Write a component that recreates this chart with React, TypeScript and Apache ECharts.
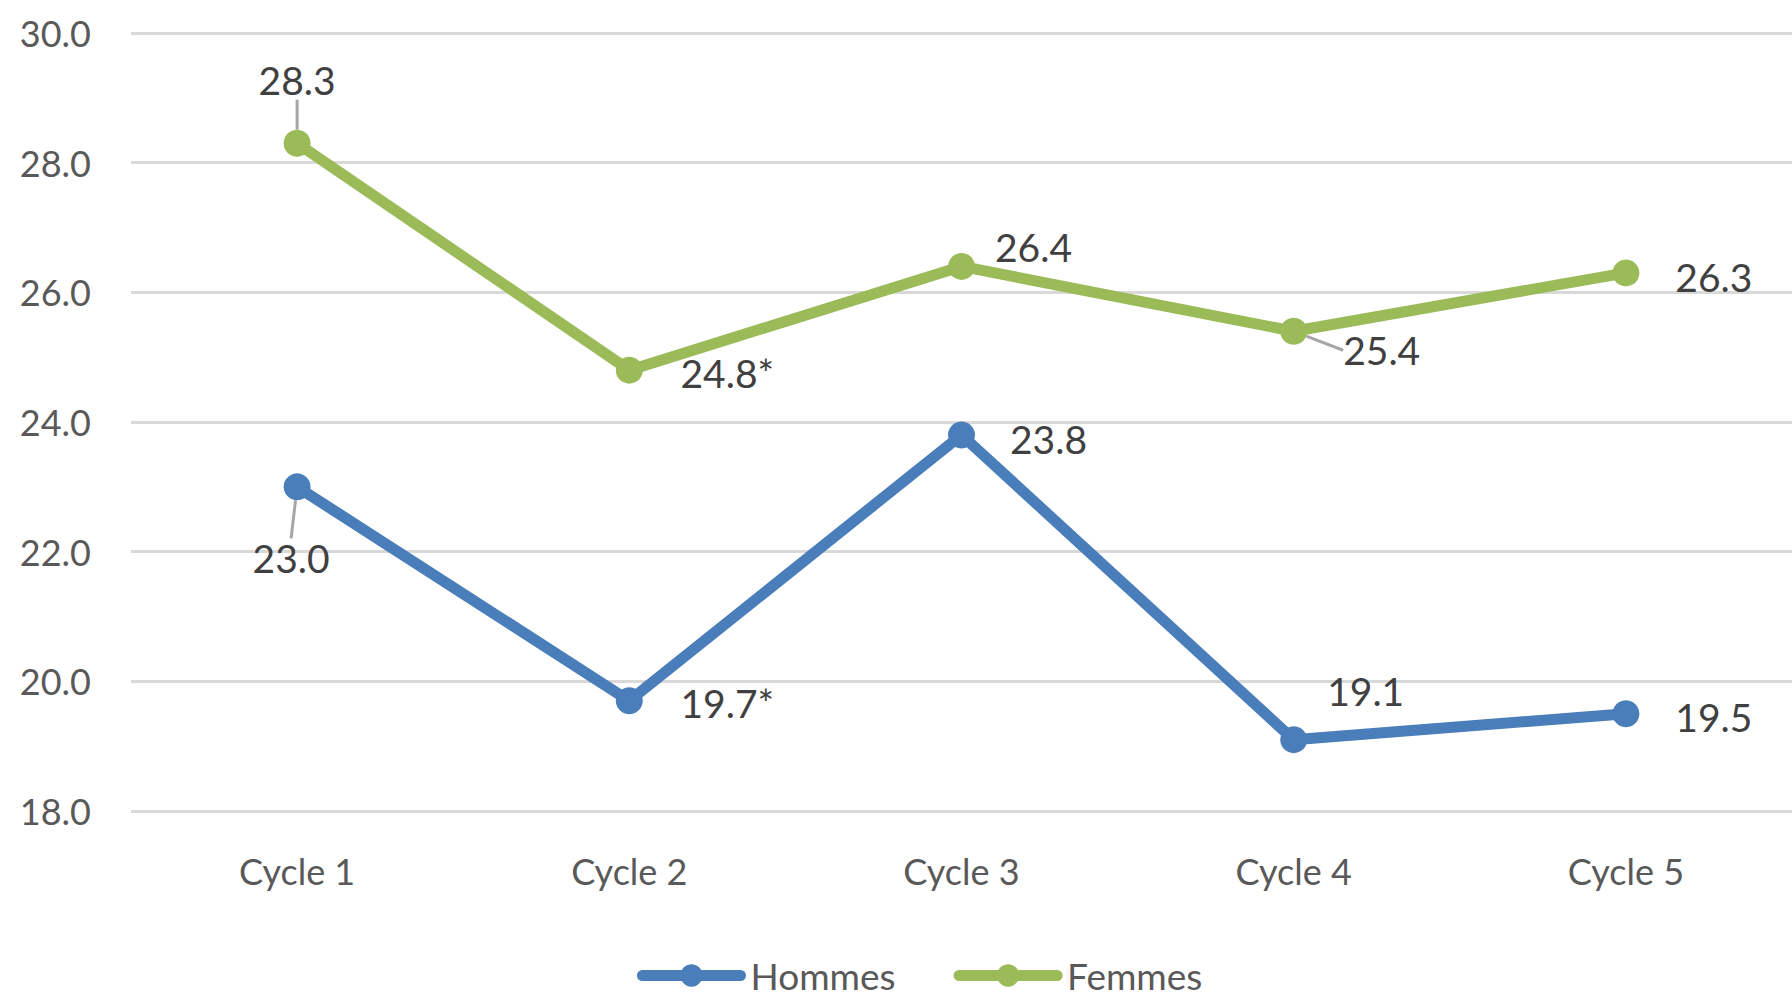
import React, { useEffect, useRef } from "react";
import * as echarts from "echarts";

const categories = ["Cycle 1", "Cycle 2", "Cycle 3", "Cycle 4", "Cycle 5"];
const hommes = [23.0, 19.7, 23.8, 19.1, 19.5];
const femmes = [28.3, 24.8, 26.4, 25.4, 26.3];
const hommesLabels = ["23.0", "19.7*", "23.8", "19.1", "19.5"];
const femmesLabels = ["28.3", "24.8*", "26.4", "25.4", "26.3"];

// label offsets (dx, dy) from each point, in pixels
const hommesOffsets = [[-6, 71], [98, 2], [87, 4], [72, -49], [88, 3]];
const femmesOffsets = [[0, -63], [98, 3], [72, -19], [88, 19], [88, 4]];
const hommesLeader = [true, false, false, false, false];
const femmesLeader = [true, false, false, true, false];

const FONT = "Lato";

function buildSeries(name: string, values: number[], labels: string[], offsets: number[][], leaders: boolean[], color: string) {
  return {
    name,
    type: "line",
    data: values.map((v, i) => ({
      value: v,
      labelLine: { show: leaders[i] },
    })),
    symbol: "circle",
    symbolSize: 27,
    lineStyle: { color, width: 11 },
    itemStyle: { color },
    label: {
      show: true,
      position: "inside",
      align: "center",
      verticalAlign: "middle",
      fontFamily: FONT,
      fontSize: 39,
      color: "#404040",
      formatter: (p: any) => labels[p.dataIndex],
    },
    labelLine: {
      show: false,
      lineStyle: { color: "#A6A6A6", width: 3 },
    },
    labelLayout: (p: any) => ({
      dx: offsets[p.dataIndex][0],
      dy: offsets[p.dataIndex][1],
    }),
  };
}

export default function App() {
  const ref = useRef<HTMLDivElement>(null);
  useEffect(() => {
    const chart = echarts.init(ref.current!, null, { renderer: "svg" });
    chart.setOption({
      animation: false,
      backgroundColor: "#ffffff",
      grid: { left: 131, right: 0, top: 33, bottom: 188, containLabel: false },
      xAxis: {
        type: "category",
        data: categories,
        boundaryGap: true,
        axisLine: { show: false },
        axisTick: { show: false },
        axisLabel: { fontFamily: FONT, fontSize: 36, color: "#595959", margin: 42 },
      },
      yAxis: {
        type: "value",
        min: 18,
        max: 30,
        interval: 2,
        axisLine: { show: false },
        axisTick: { show: false },
        splitLine: { lineStyle: { color: "#D9D9D9", width: 3 } },
        axisLabel: {
          fontFamily: FONT,
          fontSize: 36,
          color: "#595959",
          margin: 40,
          formatter: (v: number) => v.toFixed(1),
        },
      },
      legend: {
        left: 632,
        top: 952,
        itemWidth: 98,
        itemHeight: 28,
        itemGap: 58,
        lineStyle: { width: 11, cap: "round" },
        textStyle: { fontFamily: FONT, fontSize: 37, color: "#595959", padding: [0, 0, 0, 5] },
        data: ["Hommes", "Femmes"],
      },
      series: [
        buildSeries("Hommes", hommes, hommesLabels, hommesOffsets, hommesLeader, "#4A7EBB"),
        buildSeries("Femmes", femmes, femmesLabels, femmesOffsets, femmesLeader, "#9BBB59"),
      ],
    });
    return () => chart.dispose();
  }, []);
  return (
    <div
      ref={ref}
      style={{ position: "absolute", left: 0, top: 0, width: 1792, height: 999 }}
    />
  );
}
